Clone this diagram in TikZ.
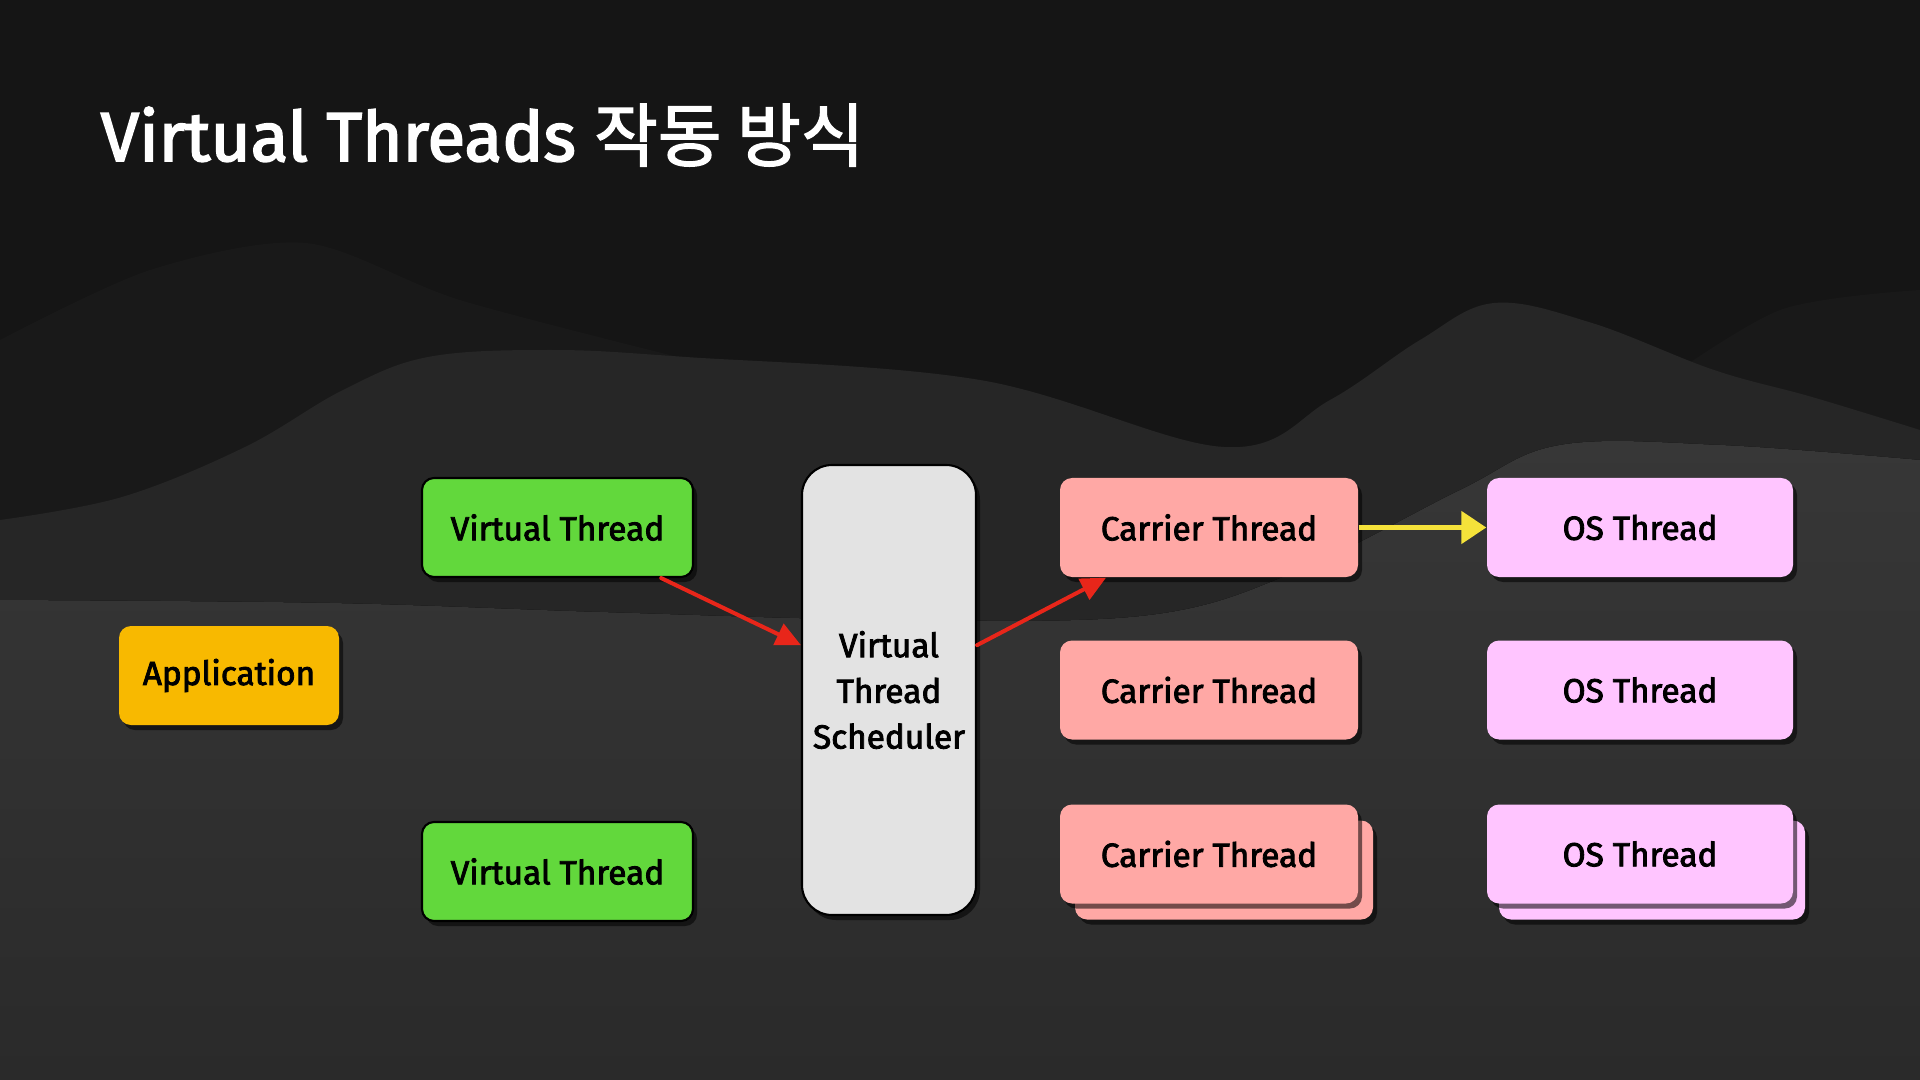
\documentclass[tikz,border=0pt]{standalone}
\usepackage{fontspec}
\setmainfont{Fira Sans}
\newfontfamily\boxfont{Fira Sans}[FakeBold=2.5]
\newfontfamily\hangul{Noto Sans CJK KR}[FakeBold=2]
\usetikzlibrary{shadows,arrows.meta}
\definecolor{bgtop}{HTML}{151515}
\definecolor{bghill}{HTML}{191919}
\definecolor{bgmid}{HTML}{262626}
\definecolor{bglowtop}{HTML}{373737}
\definecolor{bglowbot}{HTML}{2A2A2A}
\definecolor{vtgreen}{HTML}{62D83C}
\definecolor{appyellow}{HTML}{F8B900}
\definecolor{schedgray}{HTML}{E3E3E3}
\definecolor{carrierpink}{HTML}{FFA8A5}
\definecolor{osviolet}{HTML}{FFC5FF}
\definecolor{arrowred}{HTML}{E8261A}
\definecolor{arrowyellow}{HTML}{F5E23A}

\begin{document}
\begin{tikzpicture}[x=1cm,y=1cm]
    \tikzstyle{box}=[rectangle, rounded corners=0.12cm, minimum height=0.99cm, inner sep=0pt, text=black,
        font=\boxfont\fontsize{9.5}{13}\selectfont,
        drop shadow={shadow xshift=0.04cm, shadow yshift=-0.05cm, fill=black, opacity=0.55}]
    \tikzstyle{vt box}=[box, fill=vtgreen, draw=black, line width=0.6pt, minimum width=2.71cm]
    \tikzstyle{app box}=[box, fill=appyellow, minimum width=2.2cm]
    \tikzstyle{sched box}=[box, fill=schedgray, draw=black, line width=0.6pt, rounded corners=0.3cm,
        minimum width=1.74cm, minimum height=4.5cm, align=center]
    \tikzstyle{carrier box}=[box, fill=carrierpink, minimum width=2.98cm]
    \tikzstyle{os box}=[box, fill=osviolet, minimum width=3.06cm]
    \tikzstyle{red arrow}=[-{Triangle[length=0.25cm,width=0.23cm]}, draw=arrowred, line width=0.04cm, line cap=round]
    \tikzstyle{yellow arrow}=[-{Triangle[length=0.25cm,width=0.32cm]}, draw=arrowyellow, line width=0.05cm]
    \useasboundingbox (0,0) rectangle (19.2,-10.8);
    % background hills
    \fill[bgtop] (0,0) rectangle (19.2,-10.8);
    \fill[bghill] plot[smooth] coordinates {(0,-3.4) (1.5,-2.7) (3.06,-2.43) (4.6,-3.0) (6.9,-3.6)}
        -- (6.9,-6) -- (0,-6) -- cycle;
    \fill[bghill] plot[smooth] coordinates {(16.5,-3.9) (17.8,-3.1) (19.2,-2.9)} -- (19.2,-5) -- cycle;
    \fill[bgmid] plot[smooth, tension=0.6] coordinates {(0,-5.2) (1.22,-4.97) (2.45,-4.47) (3.43,-3.9) (4.28,-3.57)
        (5.51,-3.5) (6.86,-3.57) (9.8,-3.8) (12.24,-4.47) (13.3,-4.0) (14.2,-3.4) (14.94,-3.03)
        (15.92,-3.23) (17.14,-3.7) (18.12,-3.97) (19.2,-4.3)} -- (19.2,-10.8) -- (0,-10.8) -- cycle;
    \fill[top color=bglowtop, bottom color=bglowbot] plot[smooth, tension=0.6] coordinates {(0,-6.0) (3.3,-6.03)
        (6.0,-6.12) (9.0,-6.2) (11.5,-6.15) (13.0,-5.7) (14.6,-4.9) (15.6,-4.45) (17.2,-4.45) (19.2,-4.6)}
        -- (19.2,-10.8) -- (0,-10.8) -- cycle;
    % title
    \node[anchor=base west, text=white, inner sep=0pt, font=\boxfont\fontsize{19.7}{20}\selectfont]
        (Title) at (1.0,-1.61) {Virtual Threads {\hangul 작동 방식}};
    % boxes
    \node[app box] (App) at (2.29,-6.755) {Application};
    \foreach \name / \y in {1/-5.275, 2/-8.715}
        \node[vt box] (VT-\name) at (5.575,\y) {Virtual Thread};
    \node[sched box] (Sched) at (8.89,-6.9) {Virtual\\Thread\\Scheduler};
    \node[carrier box] (C-3b) at (12.24,-8.70) {};
    \node[os box] (OS-3b) at (16.52,-8.70) {};
    \foreach \name / \y in {1/-5.275, 2/-6.90, 3/-8.54} {
        \node[carrier box] (C-\name) at (12.09,\y) {Carrier Thread};
        \node[os box] (OS-\name) at (16.40,\y) {OS Thread};
    }
    % arrows
    \draw[red arrow] (VT-1.-26) -- (Sched.153);
    \draw[red arrow] (Sched.27) -- (C-1.-154);
    \draw[yellow arrow] (C-1.east) -- (OS-1.west);
\end{tikzpicture}
\end{document}
